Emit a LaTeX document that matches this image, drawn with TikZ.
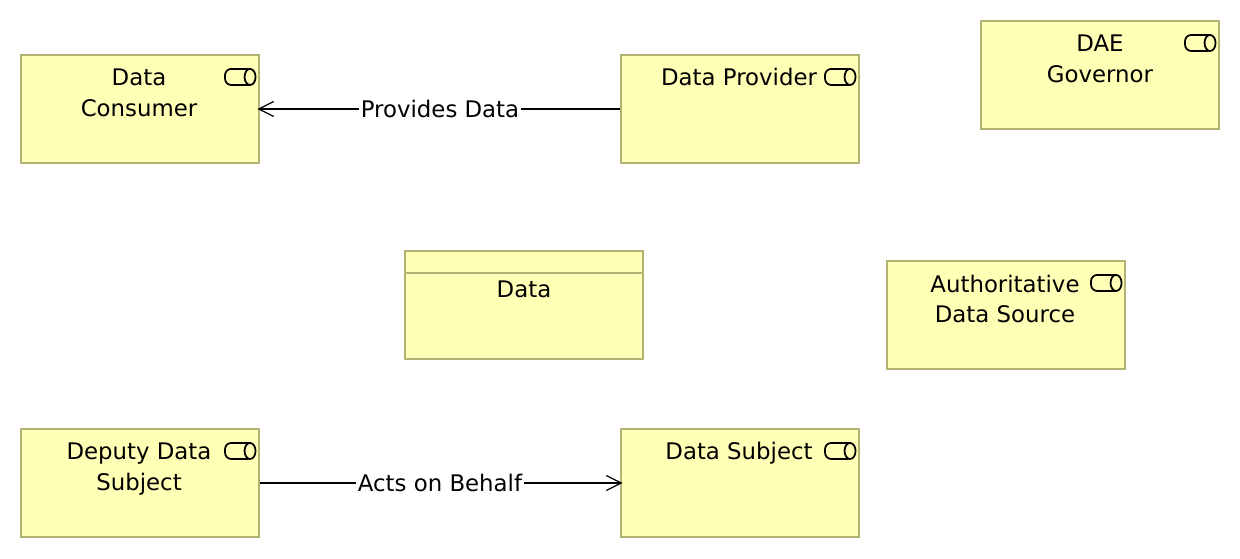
\documentclass[tikz,border=0pt]{standalone}
\usepackage{fontspec}
\setmainfont{DejaVu Sans}
\usetikzlibrary{arrows.meta,positioning}
\definecolor{boxfill}{HTML}{FFFFB5}
\definecolor{boxline}{HTML}{B2B273}
\tikzset{
  archbox/.style={draw=boxline, fill=boxfill, line width=1.2pt, minimum width=238*0.02cm, minimum height=108*0.02cm, inner sep=0pt},
  boxtext/.style={font=\fontsize{13}{17.2}\selectfont, align=center, inner sep=0pt, anchor=north, text depth=0pt},
  flowlabel/.style={font=\fontsize{13}{17}\selectfont, fill=white, inner sep=1pt},
  rel/.style={-{Straight Barb[length=8.5pt,width=8.5pt]}, line width=0.7pt, shorten >=-1.5pt},
  roleicon/.pic={
    \draw[line width=1pt, rounded corners=3.5pt] (25,-8) -- (0,-8) -- (0,8) -- (25,8);
    \draw[line width=1pt, fill=boxfill] (25,0) ellipse (5.5 and 8);
  }
}
\begin{document}
\begin{tikzpicture}[x=0.02cm,y=-0.02cm]
\useasboundingbox (0,0) rectangle (1240,558);
\node[archbox] (consumer) at (140,109) {};
\node[archbox] (provider) at (740,109) {};
\node[archbox] (governor) at (1100,75) {};
\node[archbox] (data) at (524,305) {};
\node[archbox] (source) at (1006,315) {};
\node[archbox] (deputy) at (140,483) {};
\node[archbox] (subject) at (740,483) {};
\draw[boxline, line width=1.2pt] ([yshift=-23*0.02cm]data.north west) -- ([yshift=-23*0.02cm]data.north east);
% names
\node[boxtext, below=15*0.02cm of consumer.north, xshift=-1*0.02cm] (consumername) {Data\\Consumer};
\node[boxtext, below=14*0.02cm of provider.north, xshift=-1*0.02cm] (providername) {Data Provider};
\node[boxtext, below=15*0.02cm of governor.north] (governorname) {DAE\\Governor};
\node[boxtext, below=31*0.02cm of data.north] (dataname) {Data};
\node[boxtext, below=15*0.02cm of source.north, xshift=-1*0.02cm] (sourcename) {Authoritative\\Data Source};
\node[boxtext, below=15*0.02cm of deputy.north, xshift=-1*0.02cm] (deputyname) {Deputy Data\\Subject};
\node[boxtext, below=14*0.02cm of subject.north, xshift=-1*0.02cm] (subjectname) {Data Subject};
% icons
\foreach \b in {consumer,provider,governor,source,deputy,subject}
  \pic at ([xshift=-35*0.02cm,yshift=-23*0.02cm]\b.north east) {roleicon};
% relations
\draw[rel] (provider) -- (consumer) node[midway,flowlabel] (provides) {Provides Data};
\draw[rel] (deputy) -- (subject) node[midway,flowlabel] (acts) {Acts on Behalf};
\end{tikzpicture}
\end{document}
